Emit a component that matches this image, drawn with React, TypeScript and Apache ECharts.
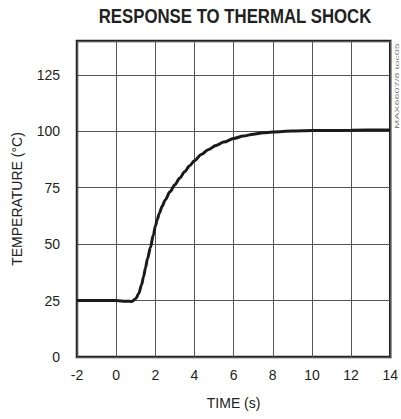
import React, { useEffect, useRef } from "react";
import * as echarts from "echarts";

const timeS = [-2, -1, 0, 0.5, 0.8, 1.0, 1.15, 1.3, 1.4, 1.5, 1.6, 1.75, 1.9, 2.0, 2.1, 2.2, 2.35, 2.5, 2.75, 3.0, 3.25, 3.5, 3.75, 4.0, 4.35, 4.7, 5.1, 5.5, 6, 6.5, 7, 7.5, 8, 9, 10, 12, 14];
const tempC = [25, 25, 25, 24.7, 24.6, 25.8, 28, 32, 35.5, 39.5, 43.5, 48.5, 54, 57.8, 60.9, 63.5, 66.8, 69.5, 73.2, 76.3, 79.3, 82.1, 84.7, 87, 89.7, 91.8, 93.7, 95.2, 96.8, 97.9, 98.7, 99.3, 99.7, 100.1, 100.3, 100.5, 100.6];

const titleText = "RESPONSE TO THERMAL SHOCK";
const xName = "TIME (s)";
const yName = "TEMPERATURE (°C)";
const noteText = "MAX6607/8 toc05";

const FONT = "'Liberation Sans', Arial, sans-serif";

export default function App() {
  const ref = useRef<HTMLDivElement>(null);
  useEffect(() => {
    if (!ref.current) return;
    const chart = echarts.init(ref.current, null, { renderer: "svg" });
    const data = timeS.map((t, i) => [t, tempC[i]]);
    chart.setOption({
      animation: false,
      backgroundColor: "#ffffff",
      grid: {
        left: 77,
        right: 8,
        top: 41,
        bottom: 62,
        show: true,
        borderColor: "#222",
        borderWidth: 2.5,
        backgroundColor: "transparent",
      },
      xAxis: {
        type: "value",
        min: -2,
        max: 14,
        interval: 2,
        name: xName,
        nameLocation: "middle",
        nameGap: 39,
        nameTextStyle: { fontFamily: FONT, fontSize: 14, color: "#222" },
        axisLine: { show: false },
        axisTick: { show: false },
        axisLabel: { fontFamily: FONT, fontSize: 14, color: "#222", margin: 11 },
        splitLine: { show: true, lineStyle: { color: "#555", width: 1 } },
      },
      yAxis: {
        type: "value",
        min: 0,
        max: 140,
        interval: 25,
        name: yName,
        nameLocation: "middle",
        nameGap: 53,
        nameTextStyle: { fontFamily: FONT, fontSize: 14, color: "#222" },
        axisLine: { show: false },
        axisTick: { show: false },
        axisLabel: {
          fontFamily: FONT,
          fontSize: 14,
          color: "#222",
          margin: 17,
          formatter: (v: number) => (v > 130 ? "" : String(v)),
        },
        splitLine: { show: true, lineStyle: { color: "#555", width: 1 } },
      },
      series: [
        {
          type: "line",
          data,
          smooth: 0.3,
          smoothMonotone: "x",
          showSymbol: false,
          lineStyle: { color: "#1a1a1a", width: 3 },
        },
      ],
      graphic: [
        {
          type: "text",
          x: 235,
          y: 16,
          scaleX: 0.84,
          style: {
            text: titleText,
            fontFamily: FONT,
            fontSize: 20,
            fontWeight: "bold",
            fill: "#222",
            align: "center",
            verticalAlign: "middle",
          },
        },
        {
          type: "text",
          x: 397,
          y: 86,
          rotation: Math.PI / 2,
          scaleX: 1.8,
          style: {
            text: noteText,
            fontFamily: FONT,
            fontSize: 6,
            fill: "#777",
            align: "center",
            verticalAlign: "middle",
          },
        },
      ],
    });
    return () => chart.dispose();
  }, []);
  return <div ref={ref} style={{ width: 401, height: 419, position: "absolute", left: 0, top: 0 }} />;
}
